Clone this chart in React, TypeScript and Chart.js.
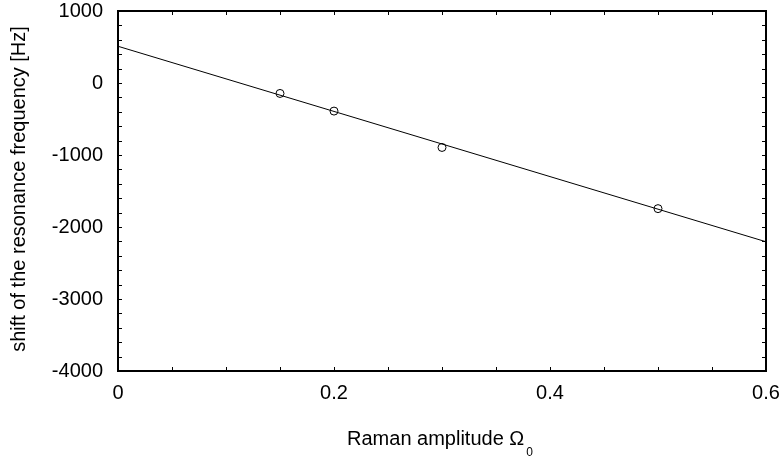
import React, { useEffect, useRef } from "react";
import { Chart, registerables } from "chart.js";

Chart.register(...registerables);

const pointX = [0.15, 0.2, 0.3, 0.5];
const pointY = [-145, -390, -895, -1745];
const fitX = [0, 0.6];
const fitY = [510, -2205];
const xTickLabels = [0, 0.2, 0.4, 0.6];
const yTickLabels = [-4000, -3000, -2000, -1000, 0, 1000];
const xTitle = "Raman amplitude Ω";
const xTitleSub = "0";
const yTitle = "shift of the resonance frequency [Hz]";

const FONT = "Liberation Sans, Arial, sans-serif";

const framePlugin = {
  id: "frameTicks",
  afterDraw(chart: any) {
    const { ctx, chartArea: a, scales } = chart;
    const xs = scales.x;
    const ys = scales.y;
    ctx.save();
    ctx.strokeStyle = "#000";
    ctx.lineWidth = 1;
    for (let i = 0; i <= 12; i++) {
      const v = i * 0.05;
      const px = Math.round(xs.getPixelForValue(v)) + 0.5;
      ctx.beginPath();
      ctx.moveTo(px, a.bottom);
      ctx.lineTo(px, a.bottom - 4);
      ctx.moveTo(px, a.top);
      ctx.lineTo(px, a.top + 4);
      ctx.stroke();
    }
    for (let i = 0; i <= 25; i++) {
      const v = -4000 + i * 200;
      const py = Math.round(ys.getPixelForValue(v)) + 0.5;
      ctx.beginPath();
      ctx.moveTo(a.left, py);
      ctx.lineTo(a.left + 4, py);
      ctx.moveTo(a.right, py);
      ctx.lineTo(a.right - 4, py);
      ctx.stroke();
    }
    ctx.lineWidth = 2;
    ctx.strokeRect(a.left, a.top, a.right - a.left, a.bottom - a.top);

    // x title with subscript
    ctx.fillStyle = "#000";
    ctx.font = `20px ${FONT}`;
    ctx.textBaseline = "alphabetic";
    const mainW = ctx.measureText(xTitle).width;
    ctx.font = `12px ${FONT}`;
    const subW = ctx.measureText(xTitleSub).width;
    const total = mainW + subW + 2;
    const cx = (a.left + a.right) / 2 - 2;
    const startX = cx - total / 2;
    const baseY = 445;
    ctx.font = `20px ${FONT}`;
    ctx.textAlign = "left";
    ctx.fillText(xTitle, startX, baseY);
    ctx.font = `12px ${FONT}`;
    ctx.fillText(xTitleSub, startX + mainW + 2, baseY + 11);

    // y title
    ctx.font = `20px ${FONT}`;
    ctx.textAlign = "center";
    ctx.textBaseline = "middle";
    ctx.translate(19, (a.top + a.bottom) / 2 - 2);
    ctx.rotate(-Math.PI / 2);
    ctx.fillText(yTitle, 0, 0);
    ctx.restore();
  },
};

export default function App() {
  const ref = useRef<HTMLCanvasElement | null>(null);
  useEffect(() => {
    if (!ref.current) return;
    const chart = new Chart(ref.current, {
      type: "scatter",
      data: {
        datasets: [
          {
            type: "line",
            data: fitX.map((x, i) => ({ x, y: fitY[i] })),
            borderColor: "#000",
            borderWidth: 1,
            pointRadius: 0,
            fill: false,
          } as any,
          {
            data: pointX.map((x, i) => ({ x, y: pointY[i] })),
            pointRadius: 4,
            pointBorderColor: "#000",
            pointBackgroundColor: "rgba(0,0,0,0)",
            pointBorderWidth: 1,
            borderColor: "#000",
          },
        ],
      },
      options: {
        animation: false,
        responsive: false,
        layout: { padding: { left: 0, top: 11, right: 18, bottom: 0 } },
        plugins: { legend: { display: false }, tooltip: { enabled: false } },
        scales: {
          x: {
            type: "linear",
            min: 0,
            max: 0.6,
            afterBuildTicks: (s: any) => {
              s.ticks = xTickLabels.map((v) => ({ value: v }));
            },
            ticks: {
              color: "#000",
              font: { family: FONT, size: 20 },
              padding: 10,
              maxRotation: 0,
              callback: (v: any) => String(v),
            },
            grid: { display: false, drawTicks: false },
            border: { display: false },
            afterFit: (s: any) => {
              s.height = 85;
              s.paddingLeft = 0;
              s.paddingRight = 0;
            },
          },
          y: {
            type: "linear",
            min: -4000,
            max: 1000,
            afterBuildTicks: (s: any) => {
              s.ticks = yTickLabels.map((v) => ({ value: v }));
            },
            ticks: {
              color: "#000",
              font: { family: FONT, size: 20 },
              padding: 15,
              callback: (v: any) => String(v),
            },
            grid: { display: false, drawTicks: false },
            border: { display: false },
            afterFit: (s: any) => {
              s.width = 118;
              s.paddingTop = 0;
              s.paddingBottom = 0;
            },
          },
        },
      },
      plugins: [framePlugin],
    });
    return () => chart.destroy();
  }, []);
  return (
    <div style={{ position: "absolute", left: 0, top: 0, width: 784, height: 456, background: "#fff" }}>
      <canvas ref={ref} width={784} height={456} style={{ width: 784, height: 456 }} />
    </div>
  );
}
